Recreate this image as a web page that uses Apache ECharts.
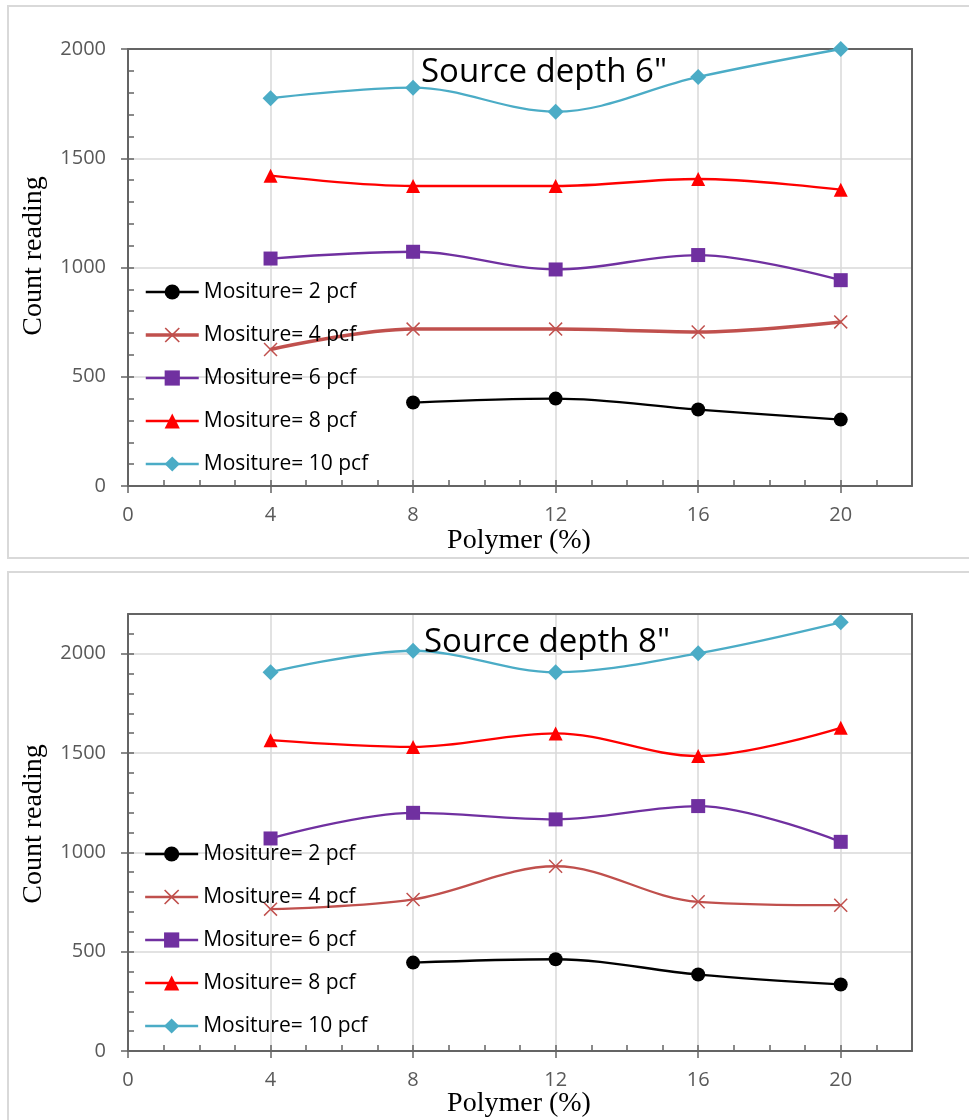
<!DOCTYPE html>
<html>
<head>
<meta charset="utf-8">
<script src="https://cdn.jsdelivr.net/npm/echarts@6/dist/echarts.min.js"></script>
<style>
  html, body { margin: 0; padding: 0; background: #fff; }
  body { width: 969px; height: 1120px; position: relative; overflow: hidden; }
  .panel { position: absolute; border: 2px solid #d9d9d9; box-sizing: border-box; }
  .chart { position: absolute; left: 0; width: 969px; }
</style>
</head>
<body>
<div class="panel" style="left:7px;top:5px;width:990px;height:554px"></div>
<div class="panel" style="left:7px;top:571px;width:990px;height:600px"></div>
<div id="chart6" class="chart" style="top:0;height:562px"></div>
<div id="chart8" class="chart" style="top:562px;height:558px"></div>
<script>
// ==============================
// data
// ==============================
const polymer = [4, 8, 12, 16, 20];
const seriesNames = ['Mositure= 2 pcf', 'Mositure= 4 pcf', 'Mositure= 6 pcf', 'Mositure= 8 pcf', 'Mositure= 10 pcf'];
const xTickLabels = [0, 4, 8, 12, 16, 20];

// source depth 6"
const depth6M2 = [null, 382, 400, 350, 304];
const depth6M4 = [625, 718, 718, 705, 751];
const depth6M6 = [1041, 1072, 991, 1057, 942];
const depth6M8 = [1420, 1373, 1373, 1405, 1356];
const depth6M10 = [1775, 1823, 1713, 1872, 2000];
const depth6YTicks = [0, 500, 1000, 1500, 2000];

// source depth 8"
const depth8M2 = [null, 445, 462, 385, 335];
const depth8M4 = [714, 763, 930, 751, 734];
const depth8M6 = [1070, 1199, 1166, 1233, 1053];
const depth8M8 = [1565, 1531, 1599, 1485, 1627];
const depth8M10 = [1907, 2015, 1907, 2002, 2158];
const depth8YTicks = [0, 500, 1000, 1500, 2000];

// ==============================
// styles
// ==============================
const AXIS = '#646464';
const GRID = '#d9d9d9';
const LABEL = '#595959';
const SANS = 'Open Sans';
const X_PATH = 'path://M1.5,0L10,8.5L18.5,0L20,1.5L11.5,10L20,18.5L18.5,20L10,11.5L1.5,20L0,18.5L8.5,10L0,1.5Z';

const seriesStyles = [
  { color: '#000000', symbol: 'circle', size: 14 },
  { color: '#C0504D', symbol: X_PATH, size: 14 },
  { color: '#7030A0', symbol: 'rect', size: 14 },
  { color: '#FF0000', symbol: 'triangle', size: 14 },
  { color: '#4BACC6', symbol: 'diamond', size: 16 }
];

function toPoints(values) {
  return polymer.map((x, i) => [x, values[i]]).filter(p => p[1] != null);
}

function lineWidthOf(cfg, i) {
  return (cfg.thickM4 && i === 1) ? 3.5 : 2.3;
}

function buildOption(cfg) {
  const grid = { left: 128, top: cfg.gridTop, width: 784, height: 437 };
  const noLine = { show: false };
  const plain = v => String(v);

  return {
    animation: false,
    backgroundColor: 'transparent',
    title: {
      text: cfg.title,
      left: cfg.titleLeft,
      top: cfg.titleTop,
      padding: 0,
      textStyle: { fontFamily: SANS, fontSize: 33, fontWeight: 'normal', color: '#000' }
    },
    grid: [grid],
    legend: {
      orient: 'vertical',
      left: 144,
      top: cfg.legendTop,
      padding: 0,
      itemWidth: 53,
      itemHeight: 19,
      itemGap: 21,
      textStyle: { fontFamily: SANS, fontSize: 21, color: '#000', lineHeight: 22 },
      data: seriesNames.map((name, i) => ({
        name,
        lineStyle: { width: lineWidthOf(cfg, i), color: seriesStyles[i].color }
      }))
    },
    xAxis: [
      {
        type: 'value', min: 0, max: 22, interval: 4, position: 'bottom',
        axisLine: { show: true, onZero: false, lineStyle: { color: AXIS, width: 2 } },
        axisTick: { show: true, inside: false, length: 7, customValues: xTickLabels, lineStyle: { color: AXIS, width: 1.5 } },
        axisLabel: { color: LABEL, fontFamily: SANS, fontSize: 20, margin: 19, customValues: xTickLabels, formatter: plain },
        splitLine: { show: true, lineStyle: { color: GRID, width: 1.5 } }
      },
      {
        type: 'value', min: 0, max: 22, interval: 1, position: 'bottom',
        axisLine: noLine,
        axisTick: { show: true, inside: true, length: 6, lineStyle: { color: AXIS, width: 1.5 } },
        axisLabel: noLine, splitLine: noLine
      },
      {
        type: 'value', min: 0, max: 22, position: 'top', z: 3,
        axisLine: { show: true, onZero: false, lineStyle: { color: AXIS, width: 2 } },
        axisTick: noLine, axisLabel: noLine, splitLine: noLine
      }
    ],
    yAxis: [
      {
        type: 'value', min: 0, max: cfg.yMax, interval: 500, position: 'left',
        axisLine: { show: true, onZero: false, lineStyle: { color: AXIS, width: 2 } },
        axisTick: { show: true, inside: false, length: 7, customValues: cfg.yTicks, lineStyle: { color: AXIS, width: 1.5 } },
        axisLabel: { color: LABEL, fontFamily: SANS, fontSize: 20, margin: 22, customValues: cfg.yTicks, formatter: plain },
        splitLine: { show: true, lineStyle: { color: GRID, width: 1.5 } }
      },
      {
        type: 'value', min: 0, max: cfg.yMax, interval: 100, position: 'left',
        axisLine: noLine,
        axisTick: { show: true, inside: true, length: 6, lineStyle: { color: AXIS, width: 1.5 } },
        axisLabel: noLine, splitLine: noLine
      },
      {
        type: 'value', min: 0, max: cfg.yMax, position: 'right', z: 3,
        axisLine: { show: true, onZero: false, lineStyle: { color: AXIS, width: 2 } },
        axisTick: noLine, axisLabel: noLine, splitLine: noLine
      }
    ],
    graphic: [
      {
        type: 'text', x: 34, y: cfg.yNameY, rotation: Math.PI / 2,
        style: { text: 'Count reading', font: '28px "Liberation Serif"', fill: '#000', textAlign: 'center', textVerticalAlign: 'middle' }
      },
      {
        type: 'text', x: 519, y: cfg.xNameY,
        style: { text: 'Polymer (%)', font: '28px "Liberation Serif"', fill: '#000', textAlign: 'center', textVerticalAlign: 'middle' }
      }
    ],
    series: cfg.values.map((vals, i) => ({
      name: seriesNames[i],
      type: 'line',
      xAxisIndex: 0,
      yAxisIndex: 0,
      smooth: 0.35,
      data: toPoints(vals),
      symbol: seriesStyles[i].symbol,
      symbolSize: seriesStyles[i].size,
      lineStyle: { color: seriesStyles[i].color, width: lineWidthOf(cfg, i) },
      itemStyle: { color: seriesStyles[i].color }
    }))
  };
}

const chart6 = echarts.init(document.getElementById('chart6'));
chart6.setOption(buildOption({
  title: 'Source depth 6"',
  titleLeft: 421, titleTop: 56,
  gridTop: 49,
  yMax: 2000,
  yTicks: depth6YTicks,
  legendTop: 281,
  yNameY: 256,
  xNameY: 541,
  thickM4: true,
  values: [depth6M2, depth6M4, depth6M6, depth6M8, depth6M10]
}));

const chart8 = echarts.init(document.getElementById('chart8'));
chart8.setOption(buildOption({
  title: 'Source depth 8"',
  titleLeft: 424, titleTop: 64,
  gridTop: 52,
  yMax: 2200,
  yTicks: depth8YTicks,
  legendTop: 281,
  yNameY: 262,
  xNameY: 542,
  thickM4: false,
  values: [depth8M2, depth8M4, depth8M6, depth8M8, depth8M10]
}));
</script>
</body>
</html>
